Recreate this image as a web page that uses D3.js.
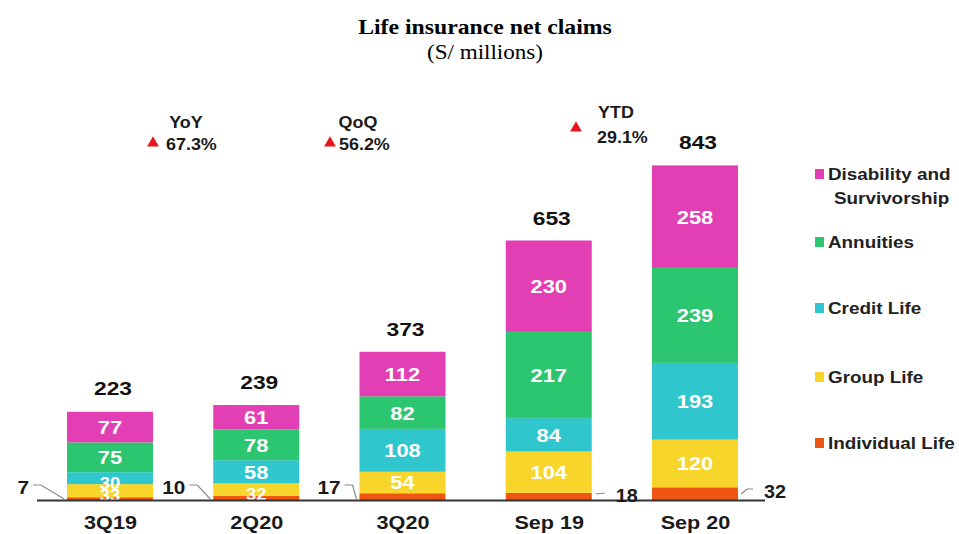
<!DOCTYPE html>
<html>
<head>
<meta charset="utf-8">
<script src="https://cdn.jsdelivr.net/npm/d3@7"></script>
<style>
  html, body { margin: 0; padding: 0; background: #ffffff; }
  svg { display: block; }
</style>
</head>
<body>
<svg id="chart" width="959" height="534"></svg>
<script>
// ---------- DATA ----------
const categories = ["3Q19", "2Q20", "3Q20", "Sep 19", "Sep 20"];
const seriesNames = ["Individual Life", "Group Life", "Credit Life", "Annuities", "Disability and Survivorship"];
const individualLife = [7, 10, 17, 18, 32];
const groupLife = [33, 32, 54, 104, 120];
const creditLife = [30, 58, 108, 84, 193];
const annuities = [75, 78, 82, 217, 239];
const disability = [77, 61, 112, 230, 258];
const totals = [223, 239, 373, 653, 843];
const changeLabels = ["YoY", "QoQ", "YTD"];
const changeValues = ["67.3%", "56.2%", "29.1%"];
const titleText = "Life insurance net claims";
const subtitleText = "(S/ millions)";

// ---------- STYLE ----------
const colors = {
  "Individual Life": "#EF5512",
  "Group Life": "#F8D52B",
  "Credit Life": "#2FC7CD",
  "Annuities": "#2DC670",
  "Disability and Survivorship": "#E23FB5"
};
const sansFont = "'Liberation Sans', Arial, sans-serif";
const serifFont = "'Liberation Serif', 'Times New Roman', serif";
const leaderOffsets = [34, 24, 15];

const svg = d3.select("#chart");

const table = categories.map((c, i) => ({
  cat: c,
  "Individual Life": individualLife[i],
  "Group Life": groupLife[i],
  "Credit Life": creditLife[i],
  "Annuities": annuities[i],
  "Disability and Survivorship": disability[i],
  total: totals[i]
}));
const stacked = d3.stack().keys(seriesNames)(table);

const x = d3.scalePoint().domain(categories).range([110, 695]);
const barW = 86;
const y = d3.scaleLinear().domain([0, 843]).range([500, 165]);

function txt(parent, px, py, str, o) {
  o = o || {};
  return parent.append("text")
    .attr("transform", `translate(${px},${py}) scale(${o.sx || 1},1)`)
    .attr("text-anchor", o.anchor || "middle")
    .attr("dominant-baseline", o.baseline || "auto")
    .attr("font-family", o.font || sansFont)
    .attr("font-size", o.size || 18)
    .attr("font-weight", o.weight || "bold")
    .attr("fill", o.fill || "#1a1a1a")
    .text(str);
}

// Title
txt(svg, 485, 34, titleText, {font: serifFont, size: 21, sx: 1.13, weight: "bold", fill: "#000"});
txt(svg, 485, 59, subtitleText, {font: serifFont, size: 21, sx: 1.1, weight: "normal", fill: "#000"});

// Bars
const gBars = svg.append("g");
stacked.forEach(layer => {
  gBars.selectAll(null)
    .data(layer)
    .enter()
    .append("rect")
    .attr("x", d => x(d.data.cat) - barW / 2)
    .attr("y", d => y(d[1]))
    .attr("width", barW)
    .attr("height", d => y(d[0]) - y(d[1]))
    .attr("fill", colors[layer.key]);
});

// Segment labels
stacked.forEach(layer => {
  if (layer.key === "Individual Life") return;
  layer.forEach(d => {
    const h = y(d[0]) - y(d[1]);
    let cy = (y(d[0]) + y(d[1])) / 2;
    let size = 19;
    if (h < 16) { cy += 5; size = 16; }
    txt(gBars, x(d.data.cat), cy, d.data[layer.key], {size: size, sx: 1.15, fill: "#ffffff", baseline: "central"});
  });
});

// Baseline
svg.append("line")
  .attr("x1", 37).attr("x2", 765)
  .attr("y1", 500.5).attr("y2", 500.5)
  .attr("stroke", "#333").attr("stroke-width", 2);

// Totals
table.forEach(d => {
  txt(svg, x(d.cat) + 3, y(d.total) - 16, d.total, {size: 19, sx: 1.2, fill: "#111"});
});

// Category labels via axis
const axis = d3.axisBottom(x).tickSize(0).tickPadding(0);
const gAxis = svg.append("g").attr("transform", "translate(0,529)").call(axis);
gAxis.select(".domain").remove();
gAxis.selectAll("text")
  .attr("font-family", sansFont)
  .attr("font-size", 18)
  .attr("font-weight", "bold")
  .attr("fill", "#1a1a1a")
  .attr("dy", "0")
  .attr("y", 0)
  .attr("transform", "scale(1.2,1)");

// Individual Life small labels with leader lines
const leader = svg.append("g");
table.forEach((d, i) => {
  const left = x(d.cat) - barW / 2;
  const right = x(d.cat) + barW / 2;
  const v = d["Individual Life"];
  if (i < 3) {
    const lx = left - leaderOffsets[i];
    leader.append("polyline")
      .attr("points", [[lx, 485], [lx + 8, 485], [left - 3, 499]].map(p => p.join(",")).join(" "))
      .attr("fill", "none").attr("stroke", "#8a8a8a").attr("stroke-width", 1.2);
    txt(leader, lx - 4, 494, v, {anchor: "end", size: 18, sx: 1.15});
  } else if (i === 3) {
    leader.append("line")
      .attr("x1", right + 4).attr("y1", 494).attr("x2", right + 13).attr("y2", 493)
      .attr("stroke", "#8a8a8a").attr("stroke-width", 1.2);
    txt(leader, right + 24, 502, v, {anchor: "start", size: 18, sx: 1.1});
  } else {
    leader.append("polyline")
      .attr("points", [[right + 3, 494], [right + 9, 489], [right + 15, 489]].map(p => p.join(",")).join(" "))
      .attr("fill", "none").attr("stroke", "#8a8a8a").attr("stroke-width", 1.2);
    txt(leader, right + 26, 498, v, {anchor: "start", size: 18, sx: 1.1});
  }
});

// Change annotations
const tri = d3.symbol().type(d3.symbolTriangle).size(60);
const ann = svg.append("g");
txt(ann, 186, 128, changeLabels[0], {size: 16, sx: 1.12});
ann.append("path").attr("d", tri).attr("transform", "translate(153,143)").attr("fill", "#E8141C");
txt(ann, 166, 150, changeValues[0], {anchor: "start", size: 16, sx: 1.12});
txt(ann, 358, 128, changeLabels[1], {size: 16, sx: 1.12});
ann.append("path").attr("d", tri).attr("transform", "translate(330,143)").attr("fill", "#E8141C");
txt(ann, 339, 150, changeValues[1], {anchor: "start", size: 16, sx: 1.12});
txt(ann, 616, 118, changeLabels[2], {size: 16, sx: 1.12});
ann.append("path").attr("d", tri).attr("transform", "translate(576,128)").attr("fill", "#E8141C");
txt(ann, 597, 143, changeValues[2], {anchor: "start", size: 16, sx: 1.12});

// Legend
const legendItems = [
  {key: "Disability and Survivorship", lines: ["Disability and", "Survivorship"], y: 174},
  {key: "Annuities", lines: ["Annuities"], y: 242},
  {key: "Credit Life", lines: ["Credit Life"], y: 308},
  {key: "Group Life", lines: ["Group Life"], y: 377},
  {key: "Individual Life", lines: ["Individual Life"], y: 443}
];
const leg = svg.append("g");
legendItems.forEach(it => {
  leg.append("rect").attr("x", 815).attr("y", it.y - 5).attr("width", 9).attr("height", 10)
    .attr("fill", colors[it.key]);
  it.lines.forEach((ln, k) => {
    txt(leg, k === 0 ? 828 : 834, it.y + 6 + k * 24, ln, {anchor: "start", size: 17, sx: 1.11, fill: "#222"});
  });
});
</script>
</body>
</html>
